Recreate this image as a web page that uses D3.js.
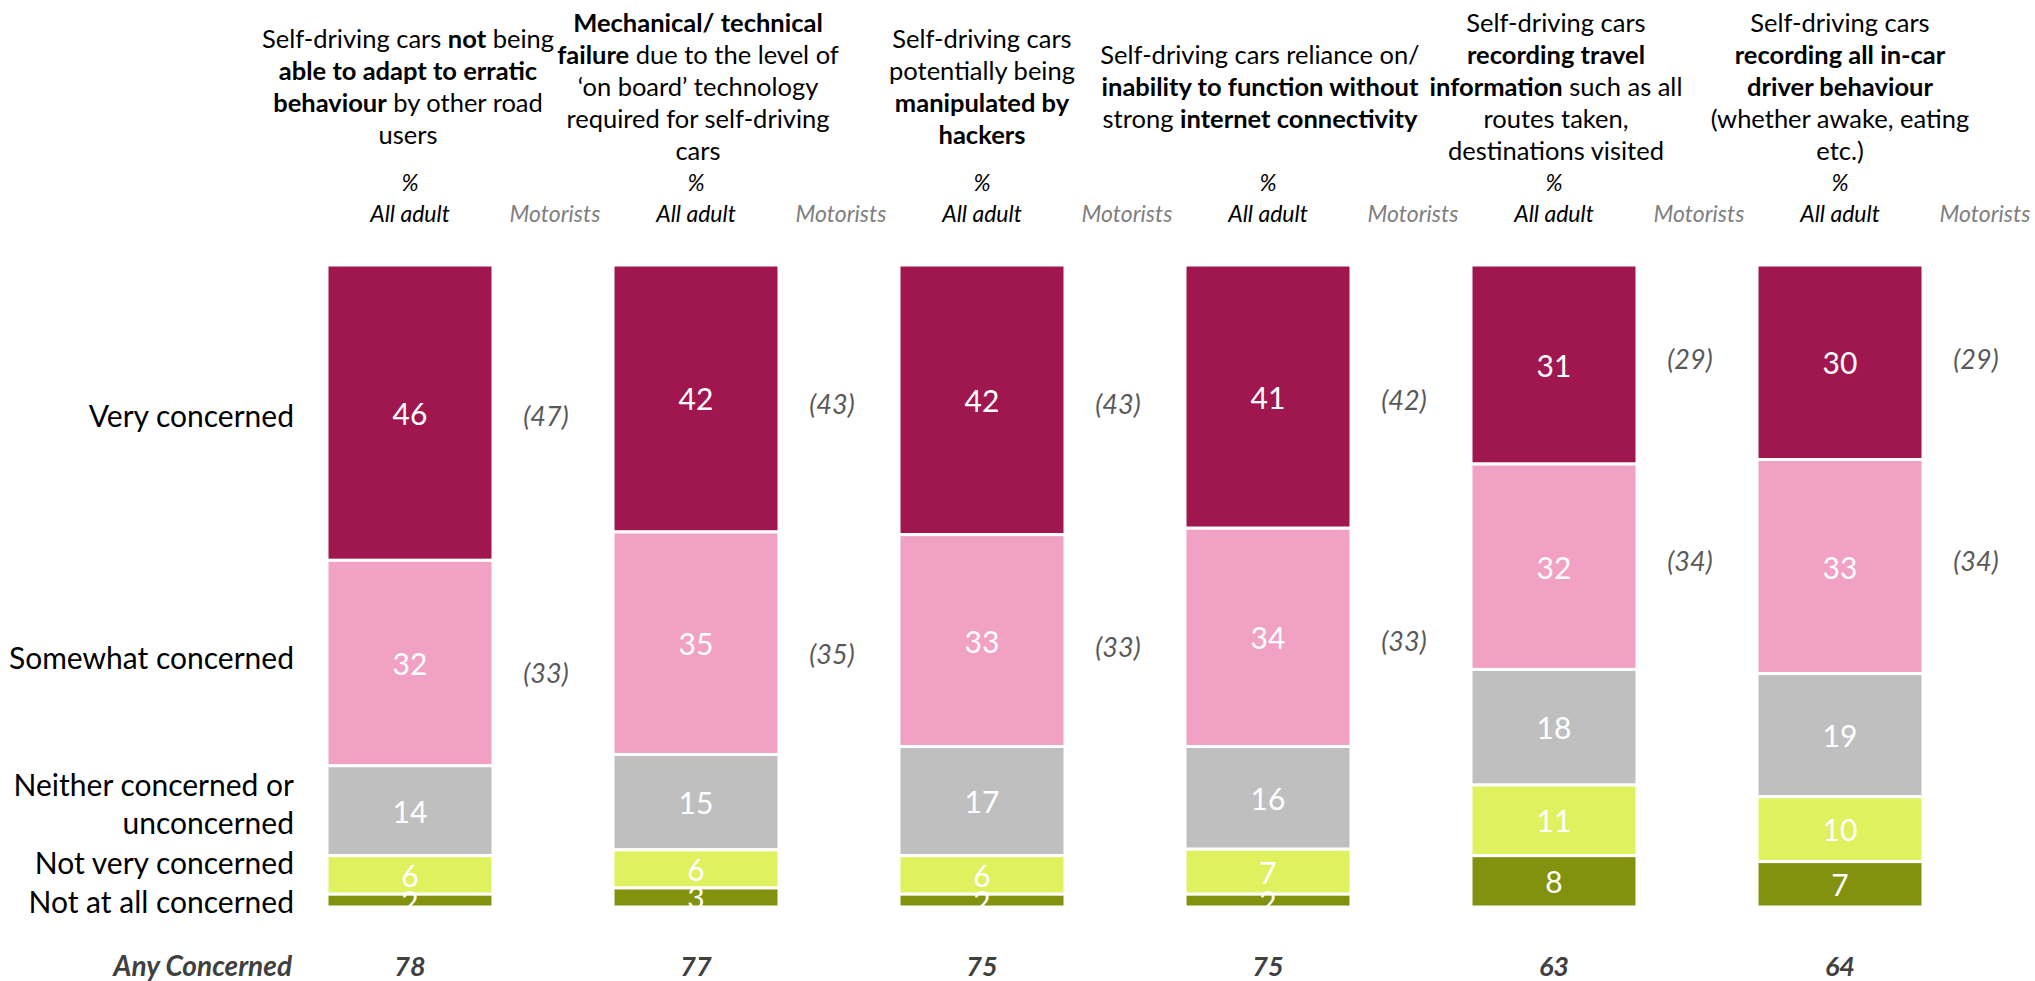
<!DOCTYPE html>
<html><head><meta charset="utf-8">
<script src="https://cdn.jsdelivr.net/npm/d3@7"></script>
<style>
body{margin:0;background:#fff}
svg{display:block}
text{font-family:Lato,'Open Sans',sans-serif}
</style>
</head><body>
<svg id="chart" width="2035" height="981"></svg>
<script>
// ---------------- DATA ----------------
const categories = ["adapt", "failure", "hackers", "internet", "travel", "incar"];
const levels = ["Very concerned", "Somewhat concerned", "Neither concerned or unconcerned", "Not very concerned", "Not at all concerned"];
const veryConcerned     = [46, 42, 42, 41, 31, 30];
const somewhatConcerned = [32, 35, 33, 34, 32, 33];
const neitherConcerned  = [14, 15, 17, 16, 18, 19];
const notVeryConcerned  = [6, 6, 6, 7, 11, 10];
const notAtAllConcerned = [2, 3, 2, 2, 8, 7];
const motoristsVery     = [47, 43, 43, 42, 29, 29];
const motoristsSomewhat = [33, 35, 33, 33, 34, 34];
const anyConcerned      = [78, 77, 75, 75, 63, 64];
const levelLabels = [["Very concerned"], ["Somewhat concerned"], ["Neither concerned or", "unconcerned"], ["Not very concerned"], ["Not at all concerned"]];
const titles = [
  [[["Self-driving cars ",0],["not",1],[" being",0]], [["able to adapt to erratic",1]], [["behaviour",1],[" by other road",0]], [["users",0]]],
  [[["Mechanical/ technical",1]], [["failure",1],[" due to the level of",0]], [["\u2018on board\u2019 technology",0]], [["required for self-driving",0]], [["cars",0]]],
  [[["Self-driving cars",0]], [["potentially being",0]], [["manipulated by",1]], [["hackers",1]]],
  [[["Self-driving cars reliance on/",0]], [["inability to function without",1]], [["strong ",0],["internet connectivity",1]]],
  [[["Self-driving cars",0]], [["recording travel",1]], [["information",1],[" such as all",0]], [["routes taken,",0]], [["destinations visited",0]]],
  [[["Self-driving cars",0]], [["recording all in-car",1]], [["driver behaviour",1]], [["(whether awake, eating",0]], [["etc.)",0]]]
];
const colors = ["#A0174F", "#F1A1C4", "#BFBFBF", "#DFF15E", "#82920E"];

// ---------------- LAYOUT ----------------
const svg = d3.select("#chart");
const rows = categories.map((c, i) => ({
  cat: c,
  [levels[0]]: veryConcerned[i],
  [levels[1]]: somewhatConcerned[i],
  [levels[2]]: neitherConcerned[i],
  [levels[3]]: notVeryConcerned[i],
  [levels[4]]: notAtAllConcerned[i]
}));

const step = 286, bw = 166, x0 = 327;
const x = d3.scaleBand().domain(categories)
  .range([x0, x0 + 6 * step - (step - bw)])
  .paddingInner((step - bw) / step).paddingOuter(0);
const y = d3.scaleLinear().domain([0, 1]).range([265, 907]);
const color = d3.scaleOrdinal().domain(levels).range(colors);

const stack = d3.stack().keys(levels).offset(d3.stackOffsetExpand);
const series = stack(rows);

const g = svg.append("g");
const layers = g.selectAll("g.layer").data(series).join("g").attr("class", "layer")
  .attr("fill", d => color(d.key));
layers.selectAll("rect").data(d => d).join("rect")
  .attr("x", d => x(d.data.cat))
  .attr("y", d => y(d[0]))
  .attr("width", x.bandwidth())
  .attr("height", d => y(d[1]) - y(d[0]))
  .attr("stroke", "#fff").attr("stroke-width", 3);

// value labels
layers.selectAll("text").data(d => d.map(v => ({v, key: d.key}))).join("text")
  .attr("x", d => x(d.v.data.cat) + x.bandwidth() / 2)
  .attr("y", d => y((d.v[0] + d.v[1]) / 2))
  .attr("text-anchor", "middle").attr("dominant-baseline", "central")
  .attr("fill", "#fff").attr("font-size", 30)
  .text(d => d.v.data[d.key]);

// motorists labels
const mOff = 53;
categories.forEach((c, i) => {
  const xm = x(c) + x.bandwidth() + mOff;
  [[motoristsVery[i] / 2, motoristsVery[i]], [motoristsVery[i] + motoristsSomewhat[i] / 2, motoristsSomewhat[i]]].forEach(([pos, val]) => {
    g.append("text").attr("x", xm).attr("y", y(pos / 100))
      .attr("text-anchor", "middle").attr("dominant-baseline", "central")
      .attr("font-style", "italic").attr("fill", "#595959").attr("font-size", 27)
      .text("(" + val + ")");
  });
});

// column titles
const lineH = 32, titleCenter = 86;
const titleShift = [-2, 2, 0, -8, 2, 0];
titles.forEach((lines, i) => {
  const cx = x(categories[i]) + x.bandwidth() / 2;
  const top = titleCenter - (lines.length - 1) * lineH / 2;
  lines.forEach((segs, j) => {
    const t = svg.append("text").attr("x", cx + titleShift[i]).attr("y", top + j * lineH)
      .attr("text-anchor", "middle").attr("dominant-baseline", "central")
      .attr("font-size", 25.5).attr("fill", "#000");
    segs.forEach(([s, b]) => t.append("tspan").attr("font-weight", b ? 700 : 400).text(s));
  });
  svg.append("text").attr("x", cx).attr("y", 182).attr("text-anchor", "middle")
    .attr("dominant-baseline", "central").attr("font-style", "italic").attr("font-size", 23).text("%");
  svg.append("text").attr("x", cx).attr("y", 213).attr("text-anchor", "middle")
    .attr("dominant-baseline", "central").attr("font-style", "italic").attr("font-size", 23).text("All adult");
  svg.append("text").attr("x", x(categories[i]) + x.bandwidth() + 62).attr("y", 213).attr("text-anchor", "middle")
    .attr("dominant-baseline", "central").attr("font-style", "italic").attr("font-size", 23)
    .attr("fill", "#7F7F7F").text("Motorists");
  // any concerned
  svg.append("text").attr("x", cx).attr("y", 965).attr("text-anchor", "middle")
    .attr("dominant-baseline", "central").attr("font-style", "italic").attr("font-weight", 700)
    .attr("font-size", 27).attr("fill", "#404040").text(anyConcerned[i]);
});

// left row labels
const labelY = [[415], [657], [784, 822], [862], [901]];
levelLabels.forEach((lines, i) => {
  lines.forEach((s, j) => {
    svg.append("text").attr("x", 294).attr("y", labelY[i][j])
      .attr("text-anchor", "end").attr("dominant-baseline", "central")
      .attr("font-size", 30).attr("fill", "#000").text(s);
  });
});
svg.append("text").attr("x", 292).attr("y", 965).attr("text-anchor", "end")
  .attr("dominant-baseline", "central").attr("font-style", "italic").attr("font-weight", 700)
  .attr("font-size", 28).attr("fill", "#404040").text("Any Concerned");
</script>
</body></html>
